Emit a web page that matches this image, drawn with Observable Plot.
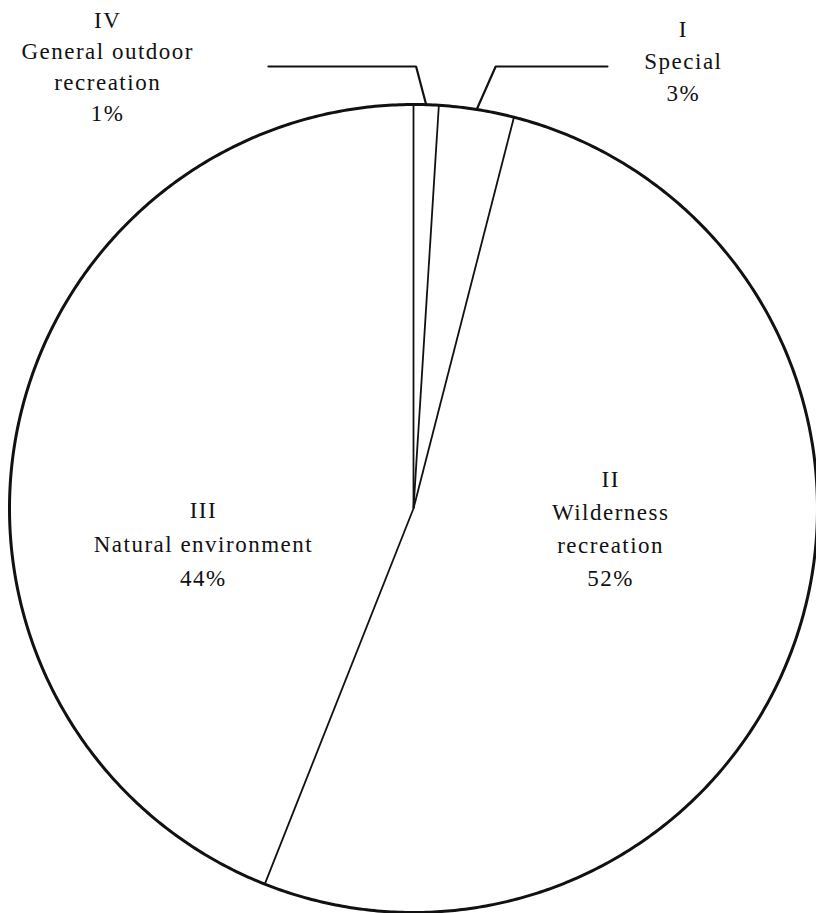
<!DOCTYPE html>
<html>
<head>
<meta charset="utf-8">
<script src="https://cdn.jsdelivr.net/npm/d3@7"></script>
<script src="https://cdn.jsdelivr.net/npm/@observablehq/plot@0.6"></script>
<style>
  html, body { margin: 0; padding: 0; background: #fff; }
  #chart svg text { letter-spacing: 1.5px; }
</style>
</head>
<body>
<div id="chart"></div>
<script>
// ---- data (clockwise from 12 o'clock) ----
const numerals = ["IV", "I", "II", "III"];
const names = ["General outdoor\nrecreation", "Special", "Wilderness\nrecreation", "Natural environment"];
const shares = [1, 3, 52, 44];

// ---- layout ----
const cx = 413, cy = 508, R = 404;
// label block centres in unit-circle coordinates (x right, y up)
const labelX = [-0.757, 0.668, 0.488, -0.520];
const labelY = [1.092, 1.105, -0.050, -0.090];
const lineGapPx = [31, 32, 33, 34];
const outside = [true, true, false, false];
const leaderY = 1.094;
const elbowDx = [-0.025, 0.047, 0, 0];
const leaderEndX = [-0.359, 0.48, 0, 0];

const total = d3.sum(shares);
let cum = 0;
const slices = shares.map((v, i) => {
  const a0 = 2 * Math.PI * cum / total;
  cum += v;
  const a1 = 2 * Math.PI * cum / total;
  return {i, cat: numerals[i], a0, a1, mid: (a0 + a1) / 2};
});
const px = a => Math.sin(a), py = a => Math.cos(a);

// outline of the pie, traced slice by slice
const outline = [];
for (const s of slices) {
  const n = Math.max(2, Math.ceil((s.a1 - s.a0) / (Math.PI / 360)));
  for (let k = 0; k <= n; k++) {
    const a = s.a0 + (s.a1 - s.a0) * k / n;
    outline.push({x: px(a), y: py(a)});
  }
}
// radial boundaries
const bounds = slices.map(s => ({x1: 0, y1: 0, x2: px(s.a0), y2: py(s.a0)}));
// leader lines for small slices
const leaders = [];
slices.forEach(s => {
  if (!outside[s.i]) return;
  const ax = px(s.mid), ay = py(s.mid);
  leaders.push({cat: s.cat, x: ax, y: ay});
  leaders.push({cat: s.cat, x: ax + elbowDx[s.i], y: leaderY});
  leaders.push({cat: s.cat, x: leaderEndX[s.i], y: leaderY});
});
// one text row per label line
const labelLines = [];
slices.forEach(s => {
  const lines = [numerals[s.i], ...names[s.i].split("\n"), `${shares[s.i]}%`];
  const gap = lineGapPx[s.i] / R;
  lines.forEach((t, k) => {
    labelLines.push({x: labelX[s.i], y: labelY[s.i] + ((lines.length - 1) / 2 - k) * gap, text: t});
  });
});

const chart = Plot.plot({
  width: 816,
  height: 913,
  margin: 0,
  x: {domain: [-1, 1], range: [cx - R, cx + R], axis: null},
  y: {domain: [-1, 1], range: [cy + R, cy - R], axis: null},
  marks: [
    Plot.link(bounds, {x1: "x1", y1: "y1", x2: "x2", y2: "y2", stroke: "#111", strokeWidth: 1.8}),
    Plot.line(outline, {x: "x", y: "y", stroke: "#111", strokeWidth: 3}),
    Plot.line(leaders, {x: "x", y: "y", z: "cat", stroke: "#111", strokeWidth: 2.2, strokeLinejoin: "miter"}),
    Plot.text(labelLines, {x: "x", y: "y", text: "text", fontSize: 23, textAnchor: "middle", fill: "#111",
      fontFamily: "Liberation Serif"})
  ]
});
document.getElementById("chart").appendChild(chart);
</script>
</body>
</html>
